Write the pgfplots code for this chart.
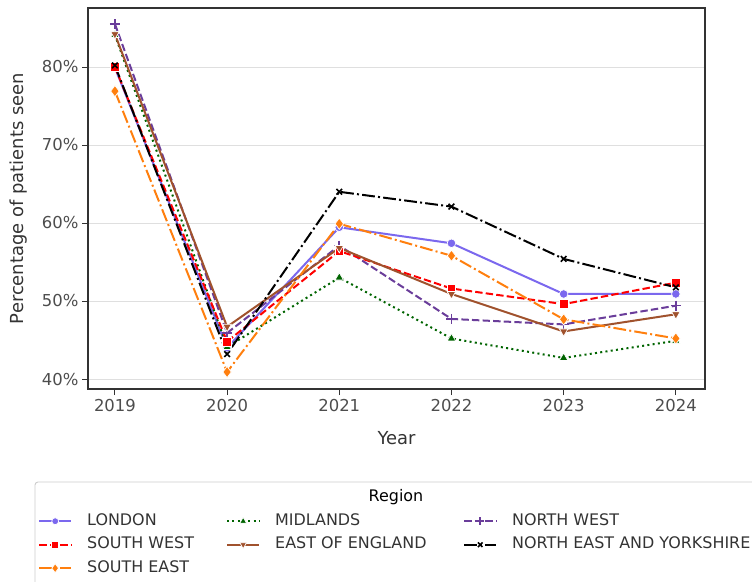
\documentclass[border=0pt]{standalone}
\usepackage{fontspec}
\setmainfont{DejaVu Sans}
\usepackage{pgfplots}
\pgfplotsset{compat=1.18}
\definecolor{london}{HTML}{7B68EE}
\definecolor{southwest}{HTML}{FF0000}
\definecolor{southeast}{HTML}{FF7F0E}
\definecolor{midlands}{HTML}{006400}
\definecolor{eoe}{HTML}{A0522D}
\definecolor{northwest}{HTML}{6A3D9A}
\definecolor{textdark}{HTML}{333333}
\definecolor{ticktext}{HTML}{4D4D4D}
\tikzset{
  dashedmpl/.style={dash pattern=on 7.4bp off 3.2bp},
  dashdotmpl/.style={dash pattern=on 12.8bp off 3.2bp on 2bp off 3.2bp},
  dottedmpl/.style={dash pattern=on 2bp off 3.3bp},
}
\newcommand{\colA}[1]{\hspace{15bp}\makebox[139bp][l]{#1}}
\newcommand{\colB}[1]{\hspace{15bp}\makebox[188bp][l]{#1}}
\newcommand{\colC}[1]{\hspace{15bp}#1}
\begin{document}
\begin{tikzpicture}
\begin{axis}[
  at={(0,0)}, anchor=south west,
  scale only axis, width=617bp, height=381bp,
  xmin=2018.76, xmax=2024.26,
  ymin=38.72, ymax=87.56,
  xtick={2019,2020,2021,2022,2023,2024},
  ytick={40,50,60,70,80},
  yticklabel={\pgfmathprintnumber{\tick}\%},
  /pgf/number format/1000 sep={},
  /pgf/number format/assume math mode=true,
  tick align=outside, tick pos=left,
  major tick length=6bp,
  every tick/.style={textdark, line width=0.9bp},
  ticklabel style={font=\fontsize{16.5}{19}\selectfont, text=ticktext},
  xticklabel style={yshift=-1bp},
  axis line style={textdark, line width=1.2bp},
  ymajorgrids, grid style={gray!25, line width=0.8bp},
  xlabel={Year}, ylabel={Percentage of patients seen},
  label style={font=\fontsize{18}{21}\selectfont, text=textdark},
  xlabel style={yshift=-13bp},
  ylabel style={yshift=8bp},
  every axis plot/.append style={line width=2bp},
  legend columns=3,
  legend cell align=left,
  legend style={at={(-53bp,-122bp)}, anchor=north west, draw=none, fill=none,
    font=\fontsize{16}{19}\selectfont, text=textdark,
    nodes={text height=12bp, text depth=4bp, inner sep=0bp},
    row sep=7.5bp, column sep=0bp},
  legend image code/.code={\draw[mark repeat=2, mark phase=2, #1] plot coordinates {(0bp,0bp) (16bp,0bp) (32bp,0bp)};},
  legend image post style={every mark/.append style={scale=0.8}},
]
% London
\addplot[london, solid, mark=*, mark size=4.3bp, mark options={solid, fill=london, draw=white, line width=0.7bp}]
coordinates {(2019,79.9) (2020,44.0) (2021,59.45) (2022,57.4) (2023,50.9) (2024,50.9)};
\addlegendentry{\colA{LONDON}}
% Midlands
\addplot[midlands, dottedmpl, mark=triangle*, mark size=4.9bp, mark options={solid, fill=midlands, draw=white, line width=0.7bp}]
coordinates {(2019,84.1) (2020,44.1) (2021,53.0) (2022,45.2) (2023,42.7) (2024,44.9)};
\addlegendentry{\colB{MIDLANDS}}
% North West
\addplot[northwest, dashedmpl, mark=+, mark size=5bp, mark options={solid, draw=northwest, line width=1.6bp}]
coordinates {(2019,85.5) (2020,45.9) (2021,57.1) (2022,47.7) (2023,47.0) (2024,49.4)};
\addlegendentry{\colC{NORTH WEST}}
% South West
\addplot[southwest, dashedmpl, mark=square*, mark size=4.3bp, mark options={solid, fill=southwest, draw=white, line width=0.7bp}]
coordinates {(2019,80.0) (2020,44.8) (2021,56.4) (2022,51.6) (2023,49.6) (2024,52.35)};
\addlegendentry{\colA{SOUTH WEST}}
% East of England
\addplot[eoe, solid, mark=triangle*, mark size=4.9bp, mark options={solid, rotate=180, fill=eoe, draw=white, line width=0.7bp}]
coordinates {(2019,84.2) (2020,46.7) (2021,56.8) (2022,50.9) (2023,46.1) (2024,48.3)};
\addlegendentry{\colB{EAST OF ENGLAND}}
% North East and Yorkshire
\addplot[black, dashdotmpl, mark=x, mark size=4bp, mark options={solid, draw=black, line width=1.6bp}]
coordinates {(2019,80.2) (2020,43.2) (2021,64.0) (2022,62.1) (2023,55.4) (2024,51.75)};
\addlegendentry{\colC{NORTH EAST AND YORKSHIRE}}
% South East
\addplot[southeast, dashdotmpl, mark=diamond*, mark size=5.6bp, mark options={solid, fill=southeast, draw=white, line width=0.7bp}]
coordinates {(2019,76.9) (2020,40.9) (2021,59.9) (2022,55.8) (2023,47.65) (2024,45.2)};
\addlegendentry{\colA{SOUTH EAST}}
\end{axis}
% legend frame (cut off at the page edge like the reference) and title
\draw[gray!40, line width=0.9bp, rounded corners=3bp] (-53bp,-260bp) -- (-53bp,-93bp) -- (720bp,-93bp);
\node[font=\fontsize{16}{19}\selectfont, text=black] at (308bp,-108bp) {Region};
\pgfresetboundingbox
\useasboundingbox (-88bp,-193bp) rectangle (664bp,389bp);
\end{tikzpicture}
\end{document}
